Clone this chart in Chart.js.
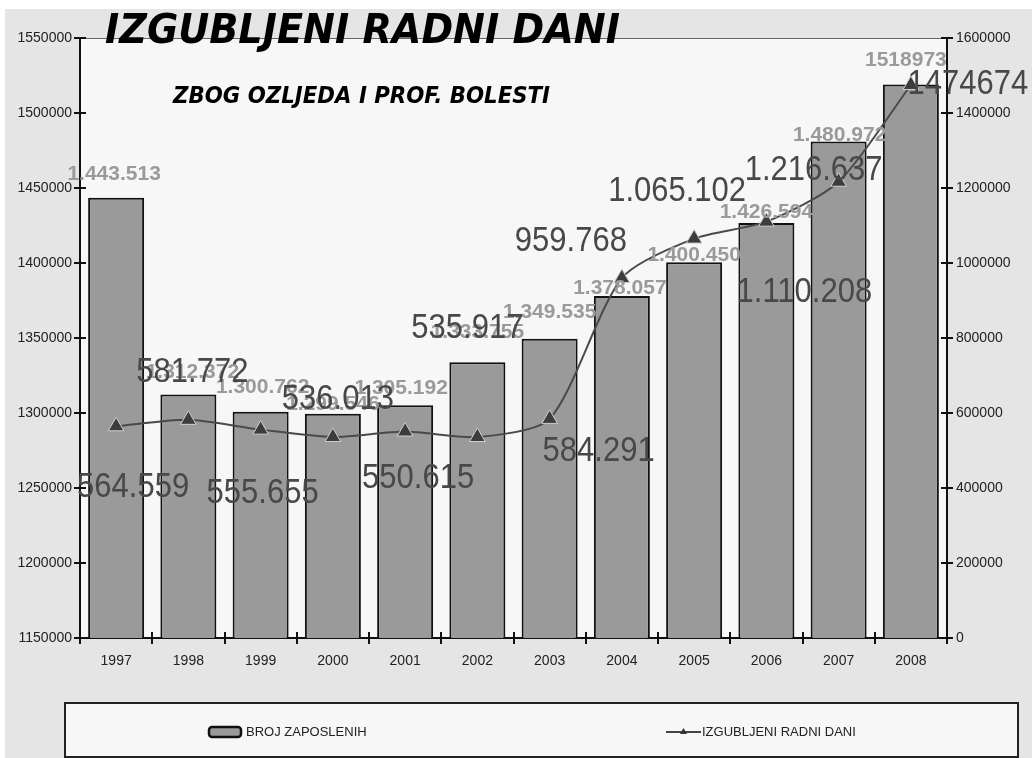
<!DOCTYPE html>
<html>
<head>
<meta charset="utf-8">
<script src="https://cdn.jsdelivr.net/npm/chart.js@4.4.1/dist/chart.umd.min.js"></script>
<style>
  body { margin: 0; background: #fff; }
  canvas { display: block; }
</style>
</head>
<body>
<canvas id="chart" width="1032" height="758"></canvas>
<script>
// podaci
const years = ['1997', '1998', '1999', '2000', '2001', '2002', '2003', '2004', '2005', '2006', '2007', '2008'];
const brojZaposlenih = [1443513, 1312372, 1300762, 1299546, 1305192, 1333755, 1349535, 1378057, 1400450, 1426594, 1480972, 1518973];
const izgubljeniDani = [564559, 581772, 555655, 536013, 550615, 535917, 584291, 959768, 1065102, 1110208, 1216637, 1474674];

const titleText = 'IZGUBLJENI RADNI DANI';
const subtitleText = 'ZBOG OZLJEDA I PROF. BOLESTI';
const barLabel = 'BROJ ZAPOSLENIH';
const lineLabel = 'IZGUBLJENI RADNI DANI';

// pomaci oznaka (px) - u originalu su rucno premjestene
const barLabelDx = [-2, 4, 2, 0, -4, 0, 0, -2, 0, 0, 1, -5];
const barLabelDy = [-24, -22, -25, -9, -17, -30, -26, -8, -7, -11, -6, -24];
const lineLabelDx = [17, 4, 2, 5, 13, -10, 49, -51, -17, 38, -25, 57];
const lineLabelDy = [61, -47, 64, -38, 47, -109, 33, -37, -47, 71, -11, -1];

const tickFont = { family: "'Liberation Sans', Arial, sans-serif", size: 14 };

// zadnja vrijednost je u originalu bez tocaka
function fmt(v, i) {
    if (i === years.length - 1) return String(v);
    return String(v).replace(/\B(?=(\d{3})+(?!\d))/g, '.');
}

const backgroundPlugin = {
    id: 'background',
    beforeDraw(chart) {
        const ctx = chart.ctx;
        const a = chart.chartArea;
        ctx.save();
        ctx.fillStyle = '#ffffff';
        ctx.fillRect(0, 0, chart.width, chart.height);
        ctx.fillStyle = '#e5e5e5';
        ctx.fillRect(5, 9, chart.width - 5, chart.height - 9);
        ctx.fillStyle = '#f7f7f7';
        ctx.fillRect(a.left, a.top, a.right - a.left, a.bottom - a.top);
        ctx.strokeStyle = '#666';
        ctx.lineWidth = 1;
        ctx.beginPath();
        ctx.moveTo(a.left, a.top + 0.5);
        ctx.lineTo(a.right, a.top + 0.5);
        ctx.stroke();
        ctx.restore();
    }
};

const labelsPlugin = {
    id: 'labels',
    afterDatasetsDraw(chart) {
        const ctx = chart.ctx;
        ctx.save();
        ctx.textAlign = 'center';
        ctx.textBaseline = 'middle';

        // oznake stupaca
        ctx.font = "bold 21px 'Liberation Sans', Arial, sans-serif";
        ctx.fillStyle = '#9a9a9a';
        chart.getDatasetMeta(0).data.forEach((bar, i) => {
            ctx.fillText(fmt(brojZaposlenih[i], i), bar.x + barLabelDx[i], bar.y + barLabelDy[i]);
        });

        // oznake linije (malo izduzene po visini kao u originalu)
        ctx.font = "31px 'Liberation Sans', Arial, sans-serif";
        ctx.fillStyle = '#484848';
        chart.getDatasetMeta(1).data.forEach((pt, i) => {
            ctx.save();
            ctx.translate(pt.x + lineLabelDx[i], pt.y + lineLabelDy[i]);
            ctx.scale(1, 1.12);
            ctx.fillText(fmt(izgubljeniDani[i], i), 0, 0);
            ctx.restore();
        });
        ctx.restore();
    }
};

const decorPlugin = {
    id: 'decor',
    afterDraw(chart) {
        const ctx = chart.ctx;
        const a = chart.chartArea;
        ctx.save();

        // unutarnji dio crtica na osima
        ctx.strokeStyle = '#111';
        ctx.lineWidth = 2;
        ctx.beginPath();
        const y = chart.scales.y;
        y.ticks.forEach((t, i) => {
            const py = Math.round(y.getPixelForTick(i));
            ctx.moveTo(a.left, py);
            ctx.lineTo(a.left + 6, py);
        });
        const y1 = chart.scales.y1;
        y1.ticks.forEach((t, i) => {
            const py = Math.round(y1.getPixelForTick(i));
            ctx.moveTo(a.right, py);
            ctx.lineTo(a.right - 6, py);
        });
        const x = chart.scales.x;
        const step = (x.right - x.left) / years.length;
        for (let k = 0; k <= years.length; k++) {
            const px = Math.round(x.left + k * step);
            ctx.moveTo(px, a.bottom);
            ctx.lineTo(px, a.bottom - 6);
        }
        ctx.stroke();

        // naslov
        ctx.fillStyle = '#000';
        ctx.textAlign = 'left';
        ctx.textBaseline = 'alphabetic';
        ctx.font = "italic bold 41px 'DejaVu Sans', Verdana, sans-serif";
        let w = ctx.measureText(titleText).width;
        ctx.save();
        ctx.translate(105, 43);
        ctx.scale(515 / w, 1);
        ctx.fillText(titleText, 0, 0);
        ctx.restore();

        ctx.font = "italic bold 23px 'DejaVu Sans', Verdana, sans-serif";
        w = ctx.measureText(subtitleText).width;
        ctx.save();
        ctx.translate(173, 103);
        ctx.scale(377 / w, 1);
        ctx.fillText(subtitleText, 0, 0);
        ctx.restore();

        // legenda
        const lx = 65, ly = 703, lw = 953, lh = 54;
        ctx.fillStyle = '#f7f7f7';
        ctx.fillRect(lx, ly, lw, lh);
        ctx.strokeStyle = '#222';
        ctx.lineWidth = 2;
        ctx.strokeRect(lx, ly, lw, lh);

        const cy = 732;
        ctx.fillStyle = '#999';
        ctx.strokeStyle = '#111';
        ctx.lineWidth = 2.5;
        ctx.beginPath();
        ctx.roundRect(209, cy - 5, 32, 10, 3);
        ctx.fill();
        ctx.stroke();

        ctx.font = "13px 'Liberation Sans Narrow', 'Liberation Sans', Arial, sans-serif";
        ctx.fillStyle = '#222';
        ctx.textBaseline = 'middle';
        w = ctx.measureText(barLabel).width;
        ctx.save();
        ctx.translate(246, cy);
        ctx.scale(Math.min(1, 134 / w), 1);
        ctx.fillText(barLabel, 0, 0);
        ctx.restore();

        ctx.strokeStyle = '#444';
        ctx.lineWidth = 2;
        ctx.beginPath();
        ctx.moveTo(666, cy);
        ctx.lineTo(701, cy);
        ctx.stroke();
        ctx.fillStyle = '#333';
        ctx.beginPath();
        ctx.moveTo(683.5, cy - 4);
        ctx.lineTo(687, cy + 2);
        ctx.lineTo(680, cy + 2);
        ctx.closePath();
        ctx.fill();

        ctx.fillStyle = '#222';
        w = ctx.measureText(lineLabel).width;
        ctx.save();
        ctx.translate(702, cy);
        ctx.scale(Math.min(1, 170 / w), 1);
        ctx.fillText(lineLabel, 0, 0);
        ctx.restore();

        ctx.restore();
    }
};

const ctx = document.getElementById('chart').getContext('2d');
const chart = new Chart(ctx, {
    type: 'bar',
    data: {
        labels: years,
        datasets: [{
            type: 'bar',
            label: barLabel,
            data: brojZaposlenih,
            yAxisID: 'y',
            backgroundColor: '#9a9a9a',
            borderColor: '#111',
            borderWidth: 2,
            barPercentage: 0.775,
            categoryPercentage: 1,
            order: 2
        }, {
            type: 'line',
            label: lineLabel,
            data: izgubljeniDani,
            yAxisID: 'y1',
            borderColor: '#4a4a4a',
            borderWidth: 2,
            tension: 0.25,
            pointStyle: 'triangle',
            pointRadius: 9,
            pointBackgroundColor: '#3c3c3c',
            pointBorderColor: '#d0d0d0',
            pointBorderWidth: 1,
            order: 1
        }]
    },
    options: {
        responsive: false,
        animation: false,
        layout: { padding: { top: 38, left: 0, right: 0, bottom: 0 } },
        plugins: {
            legend: { display: false },
            tooltip: { enabled: false },
            title: { display: false }
        },
        scales: {
            x: {
                grid: { drawOnChartArea: false, color: '#111', lineWidth: 2, tickLength: 6, offset: true },
                border: { color: '#111', width: 2 },
                ticks: { font: tickFont, color: '#222', padding: 9, maxRotation: 0 },
                afterFit(scale) { scale.height = 120; }
            },
            y: {
                position: 'left',
                min: 1150000,
                max: 1550000,
                grid: { drawOnChartArea: false, color: '#111', lineWidth: 2, tickLength: 6 },
                border: { color: '#111', width: 2 },
                ticks: { stepSize: 50000, font: tickFont, color: '#222', padding: 2, callback: v => String(v) },
                afterFit(scale) { scale.width = 80; }
            },
            y1: {
                position: 'right',
                min: 0,
                max: 1600000,
                grid: { drawOnChartArea: false, color: '#111', lineWidth: 2, tickLength: 6 },
                border: { color: '#111', width: 2 },
                ticks: { stepSize: 200000, font: tickFont, color: '#222', padding: 3, callback: v => String(v) },
                afterFit(scale) { scale.width = 85; }
            }
        }
    },
    plugins: [backgroundPlugin, labelsPlugin, decorPlugin]
});
</script>
</body>
</html>
